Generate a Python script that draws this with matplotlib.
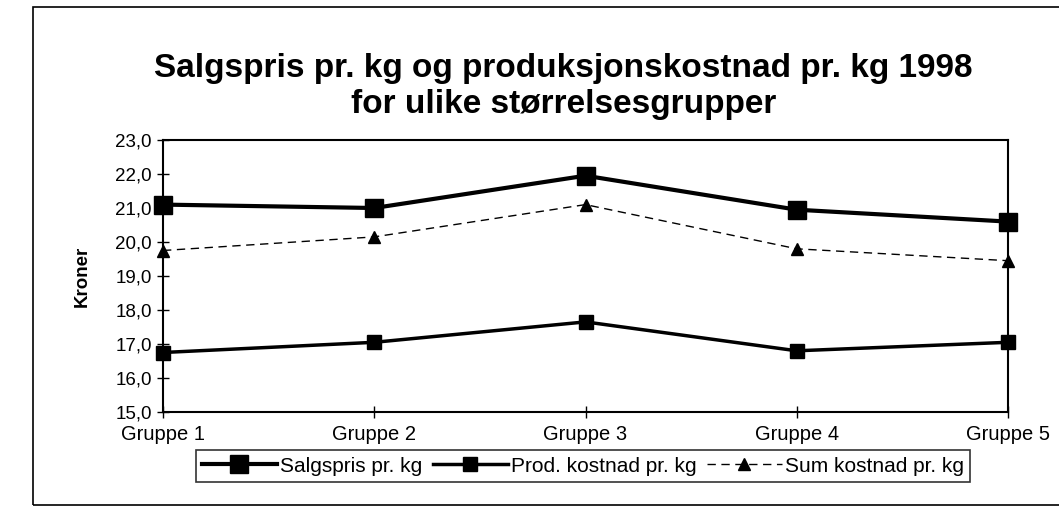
import matplotlib
matplotlib.use("Agg")
import matplotlib.pyplot as plt
from matplotlib.patches import Rectangle

plt.rcParams['font.family'] = ['Liberation Sans', 'DejaVu Sans']

groups = ["Gruppe 1", "Gruppe 2", "Gruppe 3", "Gruppe 4", "Gruppe 5"]
salgspris = [21.1, 21.0, 21.95, 20.95, 20.6]
prod_kostnad = [16.75, 17.05, 17.65, 16.8, 17.05]
sum_kostnad = [19.75, 20.15, 21.1, 19.8, 19.45]
yticks = [15, 16, 17, 18, 19, 20, 21, 22, 23]
ytick_labels = ["15,0", "16,0", "17,0", "18,0", "19,0", "20,0", "21,0", "22,0", "23,0"]

fig = plt.figure(figsize=(10.59, 5.09), dpi=100)
ax = fig.add_axes([163/1059, 1-412/509, (1008-163)/1059, (412-140)/509])

x = list(range(len(groups)))
ax.plot(x, salgspris, color='black', lw=3, marker='s', ms=13, label='Salgspris pr. kg', zorder=3, clip_on=False)
ax.plot(x, prod_kostnad, color='black', lw=2.5, marker='s', ms=10, label='Prod. kostnad pr. kg', zorder=3, clip_on=False)
ax.plot(x, sum_kostnad, color='black', lw=1, ls=(0, (6, 4)), marker='^', ms=9, label='Sum kostnad pr. kg', zorder=3, clip_on=False)

ax.set_xlim(0, len(groups)-1)
ax.set_ylim(15, 23)
ax.set_yticks(yticks)
ax.set_yticklabels(ytick_labels, fontsize=13.5)
ax.set_xticks(x)
ax.set_xticklabels(groups, fontsize=14.5)
ax.tick_params(axis='both', direction='inout', length=8, width=1, colors='black')
ax.tick_params(axis='x', pad=5)
ax.tick_params(axis='y', pad=4)
for s in ax.spines.values():
    s.set_linewidth(1.5)
    s.set_color('black')
ax.set_ylabel('Kroner', fontsize=13.5, fontweight='bold', labelpad=18)

fig.text(0.532, 1-68/509, 'Salgspris pr. kg og produksjonskostnad pr. kg 1998',
         ha='center', va='center', fontsize=24, fontweight='bold')
fig.text(0.532, 1-105/509, 'for ulike størrelsesgrupper',
         ha='center', va='center', fontsize=24, fontweight='bold')

leg = fig.legend(loc='center', bbox_to_anchor=(583/1059, 1-466/509), ncol=3,
                 fontsize=15, frameon=True, fancybox=False, edgecolor='black',
                 handlelength=3.6, handletextpad=0.15, columnspacing=0.5,
                 borderpad=0.3, borderaxespad=0)
leg.get_frame().set_linewidth(1.2)

fig.patches.append(Rectangle((33/1059, 1-505/509), 1.2, (505-7)/509,
                             transform=fig.transFigure, fill=False,
                             edgecolor='black', lw=1.2))

fig.savefig('out.png', dpi=100, facecolor='white')
